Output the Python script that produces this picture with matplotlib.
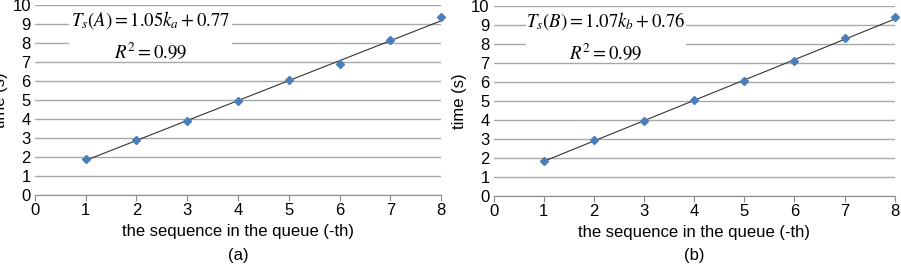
import matplotlib.pyplot as plt
from matplotlib.patches import Rectangle

plt.rcParams['font.family'] = ['Liberation Sans', 'DejaVu Sans']
plt.rcParams['mathtext.fontset'] = 'stix'

seq = [1, 2, 3, 4, 5, 6, 7, 8]
time_a = [1.9, 2.9, 3.9, 4.95, 6.05, 6.9, 8.15, 9.35]
time_b = [1.85, 2.95, 3.95, 5.05, 6.05, 7.1, 8.3, 9.45]
fit_a = (1.05, 0.77)
fit_b = (1.07, 0.76)
eq_a = r'$T_s\left(A\right)=1.05k_a+0.77$'
eq_b = r'$T_s\left(B\right)=1.07k_b+0.76$'
r2_text = r'$R^2=0.99$'
x_ticks = [0, 1, 2, 3, 4, 5, 6, 7, 8]
y_ticks = [0, 1, 2, 3, 4, 5, 6, 7, 8, 9, 10]

fig = plt.figure(figsize=(9.01, 2.66), dpi=100)
ax_a = fig.add_axes([0.0388, 0.267, 0.4507, 0.714])
ax_b = fig.add_axes([0.548, 0.263, 0.445, 0.714])


def draw(ax, y, fit, eq, tag, box_x):
    ax.set_xlim(0, 8)
    ax.set_ylim(0, 10)
    ax.set_xticks(x_ticks)
    ax.set_yticks(y_ticks)
    ax.grid(axis='y', color='#a8a8a8', linewidth=1.0)
    ax.set_axisbelow(True)
    for s in ['top', 'right', 'left']:
        ax.spines[s].set_visible(False)
    ax.spines['bottom'].set_color('#8c8c8c')
    ax.tick_params(axis='y', length=0, labelsize=12, pad=3)
    ax.tick_params(axis='x', length=4, color='#8c8c8c', labelsize=12, pad=2)
    ax.plot(seq, y, linestyle='none', marker='D', markersize=4,
            color='#4a7ebb', zorder=4, clip_on=False)
    xs = [seq[0], seq[-1]]
    ax.plot(xs, [fit[0] * v + fit[1] for v in xs], color='#333333',
            linewidth=0.8, zorder=3)
    ax.add_patch(Rectangle((box_x, 0.72), 0.40, 0.25, transform=ax.transAxes,
                           facecolor='white', edgecolor='none', zorder=2))
    cx = box_x + 0.20
    ax.text(cx, 0.92, eq, transform=ax.transAxes, ha='center', va='center',
            fontsize=13.5, zorder=5)
    ax.text(cx, 0.75, r2_text, transform=ax.transAxes, ha='center',
            va='center', fontsize=13.5, zorder=5)
    ax.set_xlabel('the sequence in the queue (-th)', fontsize=12, labelpad=4)
    ax.set_ylabel('time (s)', fontsize=12, labelpad=3)
    pos = ax.get_position()
    fig.text((pos.x0 + pos.x1) / 2, 0.04, tag, ha='center', va='center',
             fontsize=12)


draw(ax_a, time_a, fit_a, eq_a, '(a)', 0.085)
draw(ax_b, time_b, fit_b, eq_b, '(b)', 0.08)

fig.savefig('out.png', dpi=100)
